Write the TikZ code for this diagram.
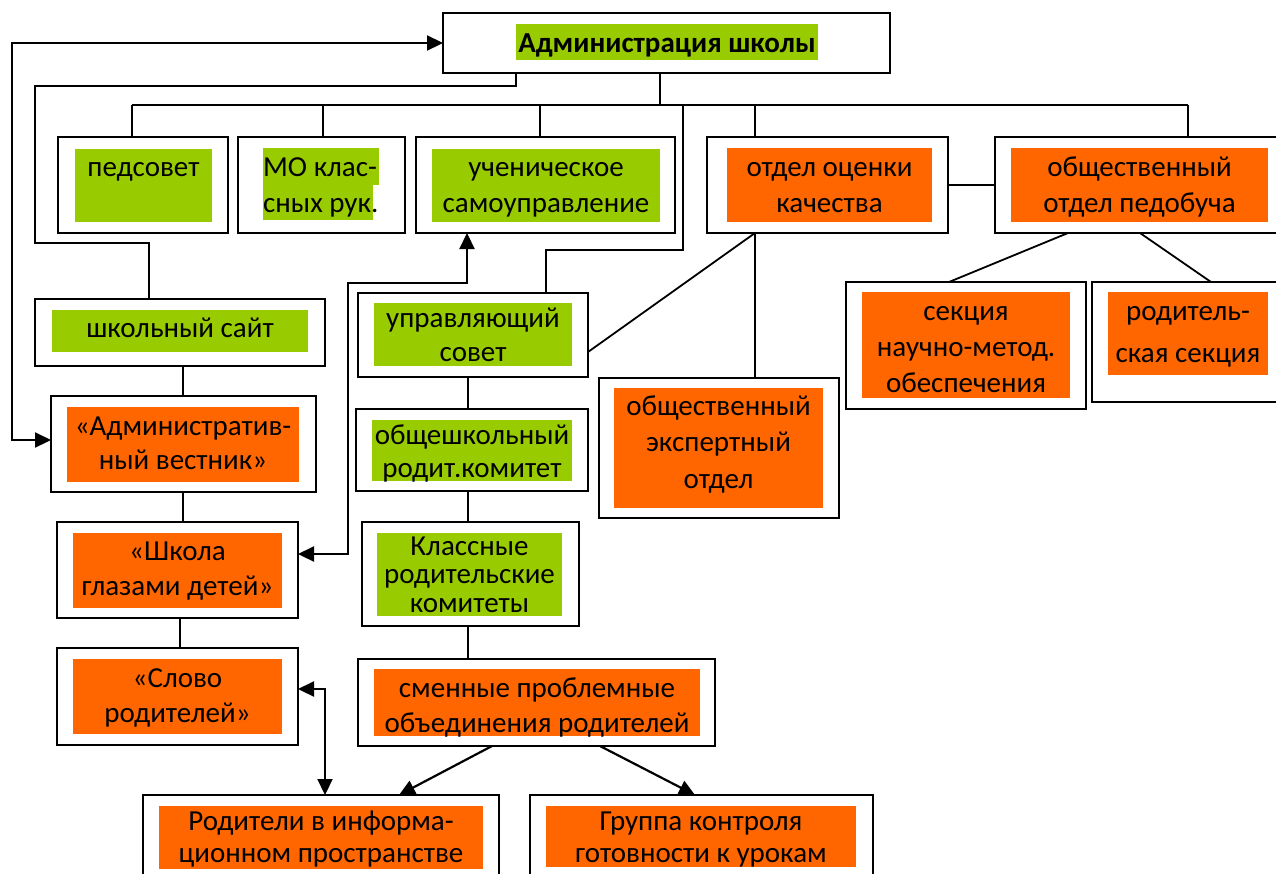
\documentclass[tikz,border=0pt]{standalone}
\usepackage{fontspec}
\setmainfont{Carlito}
\usetikzlibrary{arrows.meta,fit}
\definecolor{gr}{HTML}{99CC00}
\definecolor{orn}{HTML}{FF6600}
\newcommand\myfr{\rule{0pt}{26pt}}
\tikzset{
 frame/.style={draw, line width=2.2pt, inner sep=0pt, outer sep=0pt},
 conn/.style={line width=1.8pt},
 arr/.style={line width=2.2pt, -{Triangle[length=16pt,width=15pt]}},
 darr/.style={line width=2.2pt, {Triangle[length=16pt,width=15pt]}-{Triangle[length=16pt,width=15pt]}},
 tx/.style={font=\fontsize{29pt}{#1pt}\selectfont, align=center, inner sep=0pt, anchor=north},
 tx/.default=35,
}
\begin{document}
\begin{tikzpicture}[x=1pt,y=-1pt]
\useasboundingbox (0,0) rectangle (1276,873);
% fills
\fill[gr] (516,24) rectangle (818,60);
\fill[gr] (75,149) rectangle (212,222);
\fill[gr] (263,148) rectangle (379,185);
\fill[gr] (263,185) rectangle (373,220);
\fill[gr] (432,149) rectangle (660,222);
\fill[orn] (727,148) rectangle (932,222);
\fill[orn] (1011,148) rectangle (1268,222);
\fill[gr] (52,310) rectangle (308,352);
\fill[orn] (67,407) rectangle (299,482);
\fill[orn] (73,533) rectangle (282,608);
\fill[orn] (73,659) rectangle (282,734);
\fill[gr] (374,303) rectangle (572,366);
\fill[gr] (372,420) rectangle (572,481);
\fill[gr] (377,533) rectangle (562,616);
\fill[orn] (374,669) rectangle (700,736);
\fill[orn] (159,806) rectangle (483,869);
\fill[orn] (546,806) rectangle (856,867);
\fill[orn] (614,388) rectangle (823,508);
\fill[orn] (862,292) rectangle (1070,398);
\fill[orn] (1108,292) rectangle (1268,375);
% frames
\node[frame, fit={(443,13) (890,73)}] (adm) {};
\node[frame, fit={(58,137) (228,233)}] (ped) {};
\node[frame, fit={(238,137) (405,233)}] (mo) {};
\node[frame, fit={(416,137) (675,233)}] (uch) {};
\node[frame, fit={(707,137) (948,233)}] (oc) {};
\node[frame, fit={(995,137) (1285,233)}] (pdb) {};
\node[frame, fit={(35,299) (325,366)}] (site) {};
\node[frame, fit={(51,396) (316,492)}] (av) {};
\node[frame, fit={(57,522) (298,618)}] (shk) {};
\node[frame, fit={(57,648) (298,745)}] (slv) {};
\node[frame, fit={(358,293) (588,377)}] (upr) {};
\node[frame, fit={(356,409) (588,491)}] (obs) {};
\node[frame, fit={(362,522) (579,626)}] (kl) {};
\node[frame, fit={(358,659) (715,746)}] (smen) {};
\node[frame, fit={(143,795) (499,885)}] (rp) {};
\node[frame, fit={(530,795) (873,885)}] (grp) {};
\node[frame, fit={(599,378) (839,518)}] (eks) {};
\node[frame, fit={(846,282) (1086,409)}] (sek) {};
\node[frame, fit={(1092,282) (1285,402)}] (rod) {};
% texts
\node[tx, font=\fontsize{29pt}{35pt}\selectfont\bfseries] (tadm) at (667,26) {\myfr Администрация школы};
\node[tx] (tped) at (143.5,150) {\myfr педсовет};
\node[tx=36, anchor=north west, align=left] (tmo) at (263,150) {\myfr МО клас-\\сных рук.};
\node[tx=36] (tuch) at (546,150) {\myfr ученическое\\самоуправление};
\node[tx=36] (toc) at (829.5,150) {\myfr отдел оценки\\качества};
\node[tx=36] (tpdb) at (1139.5,150) {\myfr общественный\\отдел педобуча};
\node[tx] (tsite) at (180,311) {\myfr школьный сайт};
\node[tx=34] (tupr) at (473,301) {\myfr управляющий\\совет};
\begin{scope}
\clip (372,420) rectangle (572,481);
\node[tx=33] (tobs) at (472,418) {\myfr общешкольный\\родит.комитет};
\end{scope}
\node[tx=34] (tav) at (183,409) {\myfr «Административ-\\ный вестник»};
\node[tx=35] (tshk) at (177.5,534) {\myfr «Школа\\глазами детей»};
\node[tx=28.5] (tkl) at (469.5,529) {\myfr Классные\\родительские\\комитеты};
\node[tx=35] (tsmen) at (537,671) {\myfr сменные проблемные\\объединения родителей};
\node[tx=35] (tslv) at (177.5,661) {\myfr «Слово\\родителей»};
\node[tx=32] (trp) at (321,804) {\myfr Родители в информа-\\ционном пространстве};
\node[tx=32] (tgrp) at (701,804) {\myfr Группа контроля\\готовности к урокам};
\node[tx=36.5] (teks) at (718.5,389) {\myfr общественный\\экспертный\\отдел};
\node[tx=36] (tsek) at (966,294) {\myfr секция\\научно-метод.\\обеспечения};
\node[tx=42] (trod) at (1188,294) {\myfr родитель-\\ская секция};
% coordinates
\coordinate (b0) at (660,105);
\coordinate (busL) at (132,105);
\coordinate (busR) at (1188,105);
\coordinate (d2) at (323,105);
\coordinate (d3) at (540,105);
\coordinate (d4) at (755,105);
\coordinate (s1) at (516,86);
\coordinate (s2) at (35,243);
\coordinate (s3) at (149,243);
\coordinate (L) at (12,0);
\coordinate (u1) at (348,283);
\coordinate (u2) at (467,283);
\coordinate (v0) at (683,105);
\coordinate (v1) at (683,250);
\coordinate (v2) at (546,250);
\coordinate (p1) at (1068,0);
\coordinate (p2) at (949,0);
\coordinate (p3) at (1140,0);
\coordinate (p4) at (1211,0);
\coordinate (c1) at (183,0);
\coordinate (c2) at (180,0);
\coordinate (c3) at (468,0);
\coordinate (q1) at (492,0);
\coordinate (q2) at (399,0);
\coordinate (q3) at (600,0);
\coordinate (q4) at (695,0);
\coordinate (r1) at (325,689);
% connectors
\draw[conn] (adm.south -| b0) -- (b0);
\draw[conn] (busL) -- (busR);
\draw[conn] (busL) -- (ped.north -| busL);
\draw[conn] (d2) -- (mo.north -| d2);
\draw[conn] (d3) -- (uch.north -| d3);
\draw[conn] (d4) -- (oc.north -| d4);
\draw[conn] (busR) -- (pdb.north -| busR);
\draw[conn] (adm.south -| s1) -- (s1) -| (s2) -- (s3) -- (site.north -| s3);
\draw[darr] (adm.west) -- (adm.west -| L) -- ([yshift=4pt]av.west -| L) -- ([yshift=4pt]av.west);
\draw[darr] (uch.south -| u2) -- (u2) -- (u1) -- ([yshift=16pt]shk.east -| u1) -- ([yshift=16pt]shk.east);
\draw[conn] (v0) -- (v1) -- (v2) -- (upr.north -| v2);
\draw[conn] ([yshift=-17pt]upr.east) -- (oc.south -| d4);
\draw[conn] (oc.south -| d4) -- (eks.north -| d4);
\draw[conn] (oc.east) -- (pdb.west |- oc.east);
\draw[conn] (pdb.south -| p1) -- (sek.north -| p2);
\draw[conn] (pdb.south -| p3) -- (rod.north -| p4);
\draw[conn] (site.south -| c1) -- (av.north -| c1);
\draw[conn] (av.south -| c1) -- (shk.north -| c1);
\draw[conn] (shk.south -| c2) -- (slv.north -| c2);
\draw[conn] (upr.south -| c3) -- (obs.north -| c3);
\draw[conn] (obs.south -| c3) -- (kl.north -| c3);
\draw[conn] (kl.south -| c3) -- (smen.north -| c3);
\draw[arr] (smen.south -| q1) -- (rp.north -| q2);
\draw[arr] (smen.south -| q3) -- (grp.north -| q4);
\draw[darr] ([yshift=7.5pt]slv.east) -- (r1) -- (rp.north -| r1);
\end{tikzpicture}
\end{document}
